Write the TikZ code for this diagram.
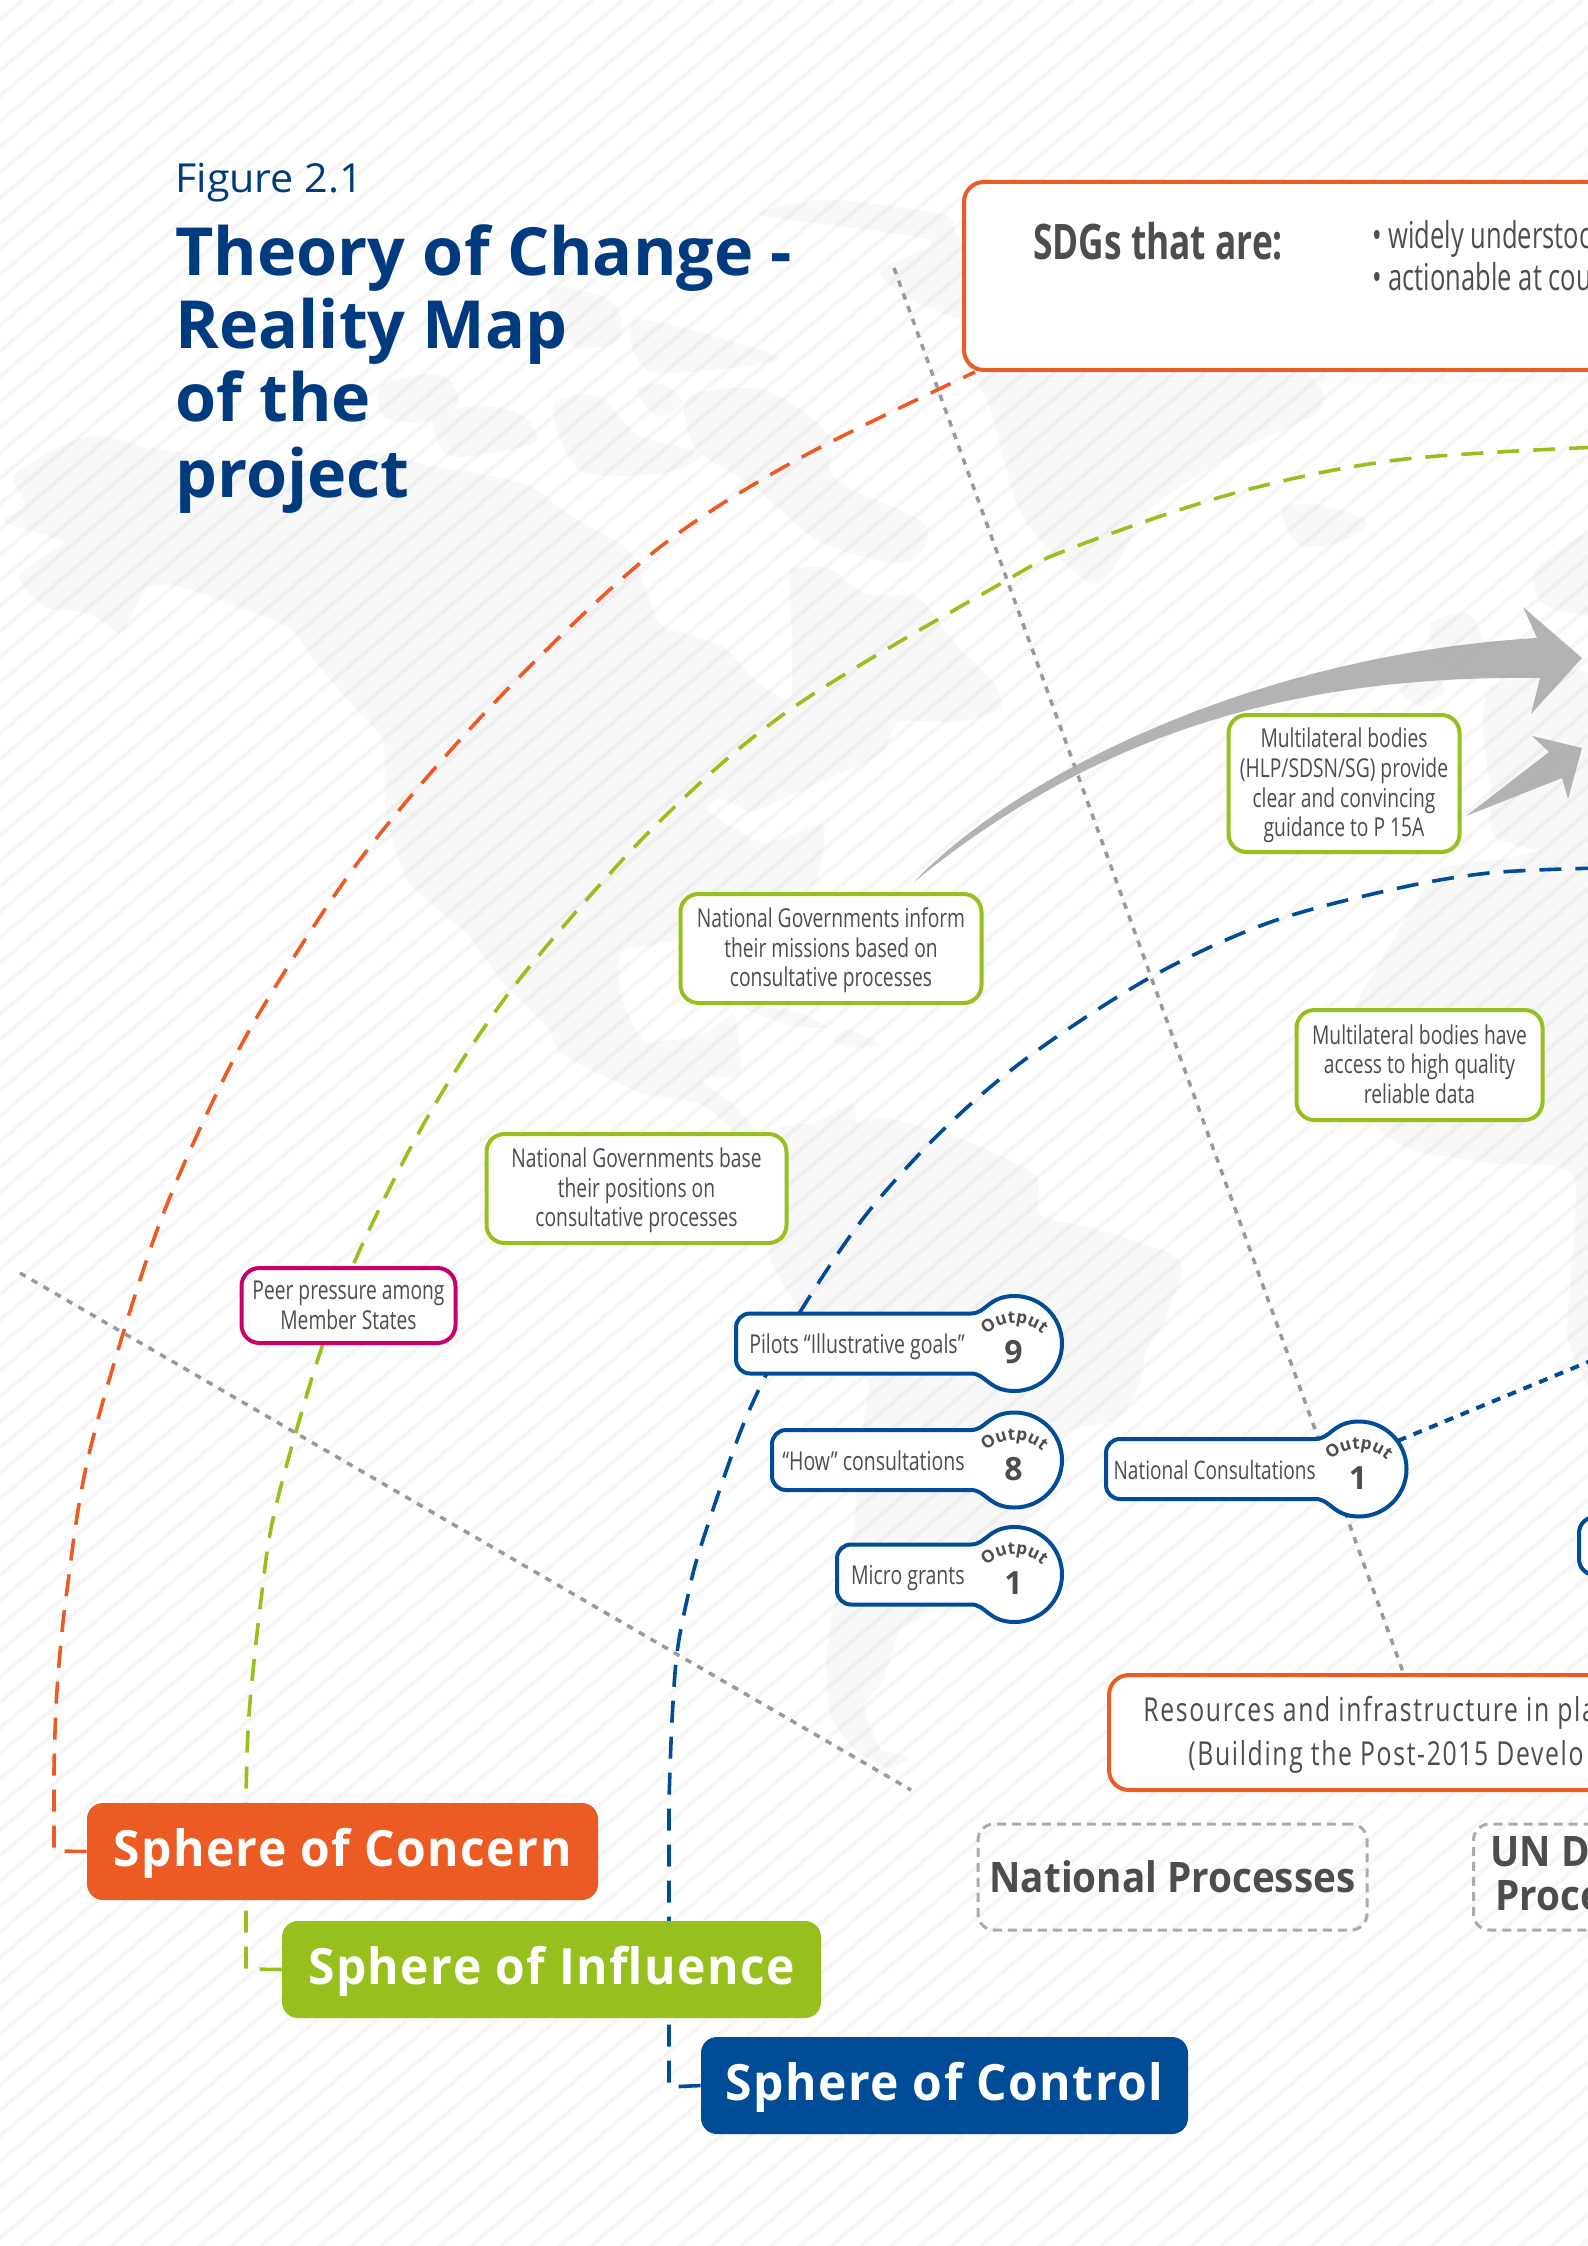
\documentclass[tikz,border=0pt]{standalone}
\usepackage{fontspec}
\usetikzlibrary{decorations.text}
\setmainfont{Open Sans}
\newfontfamily\cond[FakeStretch=0.74]{Open Sans}
\newfontfamily\condk[FakeStretch=0.75]{Open Sans}
\newfontfamily\condn[FakeStretch=0.69]{Open Sans}
\newfontfamily\resf[FakeStretch=0.75,LetterSpace=5]{Open Sans}
\newfontfamily\condb[FakeStretch=0.72]{Open Sans Bold}
\newfontfamily\titleb{Open Sans Bold}
\newfontfamily\figf[FakeStretch=1.03]{Open Sans}
\newfontfamily\sphf[FakeStretch=0.96,LetterSpace=3]{Open Sans Bold}
\newfontfamily\procf[FakeStretch=0.92]{Open Sans Bold}
\newfontfamily\outf{Open Sans Bold}
\newcommand\fsz[2]{\fontsize{#1pt}{#2pt}\selectfont}
\definecolor{corange}{HTML}{EC5B24}
\definecolor{cgreen}{HTML}{97BF1E}
\definecolor{cblue}{HTML}{004C97}
\definecolor{cmag}{HTML}{C8006E}
\definecolor{ctext}{HTML}{4D4D4F}
\definecolor{cnavy}{HTML}{003A7F}
\definecolor{cmap}{HTML}{F8F8F8}
\pgfdeclarelayer{under}
\pgfsetlayers{under,main}
\tikzset{
  x=0.5pt,y=-0.5pt,
  stripe/.style={line width=2pt,black,opacity=0.035},
  land/.style={fill=cmap,draw=none},
  dashcurve/.style={line width=1.8pt,dash pattern=on 11pt off 7pt},
  dotline/.style={line width=1.75pt,color=black!40,dash pattern=on 3.25pt off 3.5pt},
  labelbox/.style={draw=cgreen,fill=white,line width=2pt,rounded corners=9pt,inner sep=0pt},
  boxtext/.style={inner sep=0pt,align=center,text=ctext,font=\cond\fsz{13}{14.8}},
  framebox/.style={draw=corange,fill=white,line width=2pt,rounded corners=10pt,inner sep=0pt,minimum width=500pt},
  spherebox/.style={text=white,inner sep=0pt,rounded corners=8pt,font=\sphf\fsz{25}{28},text height=31.5pt,text depth=17pt},
  procbox/.style={draw=black!33,line width=1.5pt,dash pattern=on 4.5pt off 3pt,rounded corners=8pt,inner sep=0pt},
  plain/.style={text=ctext,inner sep=0pt},
  bigarrow/.style={fill=black!33,fill opacity=0.9,draw=none},
  keybody/.style={draw=cblue,fill=white,line width=2pt}
}
\newcommand\keyhole[8]{% name, left, neck, cx, cy, label, number, label right
  \pgfmathsetmacro\kt{#5-30}\pgfmathsetmacro\kb{#5+30}
  \pgfmathsetmacro\ktc{#5-47.5}\pgfmathsetmacro\kbc{#5+47.5}
  \pgfmathsetmacro\knc{#3+15}\pgfmathsetmacro\kcc{#4-26}
  \draw[keybody] (#3,\kt) .. controls (\knc,\kt) and (\kcc,\ktc) .. (#4,\ktc)
     arc[start angle=-90,end angle=90,radius=47.5]
     .. controls (\kcc,\kbc) and (\knc,\kb) .. (#3,\kb)
     [rounded corners=7pt] -- (#2,\kb) -- (#2,\kt) -- (#3,\kt);
  \node[minimum size=47.5pt,inner sep=0pt,circle] (#1) at (#4,#5) {};
  \node[plain,anchor=base east,font=\condk\fsz{13}{14}] (#1-label) at (#8,#5+10) {#6};
  \node[plain,anchor=base,font=\outf\fsz{16}{18}] (#1-number) at (#4-1,#5+20) {#7};
  \pgfmathsetmacro\kax{#4-31}\pgfmathsetmacro\kay{#5-6}
  \path[decorate,decoration={text along path,text align=center,text color=ctext,text={|\outf\fsz{8.6}{10}|Output}}]
     (\kax,\kay) arc[start angle=-140,end angle=-40,radius=40];
}
\begin{document}
\begin{tikzpicture}
\useasboundingbox (0,0) rectangle (1588,2246);
\clip (0,0) rectangle (1588,2246);

% ---------- boxes -----------
\node[framebox,minimum height=94pt,anchor=north west] (sdg) at (962,180) {};
\node[framebox,minimum height=57.5pt,anchor=north west] (res) at (1107,1673) {};
\coordinate (sdgfoot) at (975,372);
\coordinate (resfoot) at (1403,1672);
\coordinate (grayA) at (894,268);
\coordinate (grayB) at (20,1273);
\coordinate (grayC) at (911,1790);
\coordinate (dotEnd) at (1600,1357);
\coordinate (greenEnd) at (1600,447);
\coordinate (blueEnd) at (1600,868);

\node[plain,anchor=base west,font=\condb\fsz{24.5}{26}] (sdgtitle) at (1033,260) {SDGs that are:};
\node[plain,anchor=base west,font=\condn\fsz{18.5}{20}] (sdg1) at (1372,249) {• widely understood};
\node[plain,anchor=base west,font=\condn\fsz{18.5}{20}] (sdg2) at (1372,291) {• actionable at coun};
\node[plain,anchor=base west,font=\resf\fsz{16.5}{18}] (res1) at (1143,1721) {Resources and infrastructure in pla};
\node[plain,anchor=base west,font=\resf\fsz{16.5}{18}] (res2) at (1188,1765) {(Building the Post-2015 Develo};

\node[anchor=base west,text=cnavy,inner sep=0pt,font=\figf\fsz{20}{22}] (fig) at (175,193) {Figure 2.1};
\node[anchor=base west,text=cnavy,inner sep=0pt,font=\titleb\fsz{33.2}{36}] (t1) at (175,276) {Theory of Change -};
\node[anchor=base west,text=cnavy,inner sep=0pt,font=\titleb\fsz{33.2}{36}] (t2) at (175,349) {Reality Map};
\node[anchor=base west,text=cnavy,inner sep=0pt,font=\titleb\fsz{33.2}{36}] (t3) at (175,422) {of the};
\node[anchor=base west,text=cnavy,inner sep=0pt,font=\titleb\fsz{33.2}{36}] (t4) at (175,497) {project};

\node[labelbox,minimum width=115.5pt,minimum height=68.5pt] (hlp) at (1344,783.5) {};
\node[boxtext] (hlp-text) at (1344,785.5) {Multilateral bodies\\(HLP/SDSN/SG) provide\\clear and convincing\\guidance to P 15A};
\node[labelbox,minimum width=123pt,minimum height=55pt] (data) at (1419.5,1065) {};
\node[boxtext] (data-text) at (1419.5,1064) {Multilateral bodies have\\access to high quality\\reliable data};
\node[labelbox,minimum width=150.5pt,minimum height=54.5pt] (inform) at (831,948.5) {};
\node[boxtext] (inform-text) at (831,950.5) {National Governments inform\\their missions based on\\consultative processes};
\node[labelbox,minimum width=150pt,minimum height=54.5pt] (base) at (636.5,1188.5) {};
\node[boxtext] (base-text) at (636.5,1190.5) {National Governments base\\their positions on\\consultative processes};
\node[labelbox,draw=cmag,minimum width=107pt,minimum height=37.5pt] (peer) at (348.5,1305.5) {};
\node[boxtext] (peer-text) at (348.5,1305.5) {Peer pressure among\\Member States};

\keyhole{pilots}{736}{971}{1014.5}{1343.5}{Pilots “Illustrative goals”}{9}{965}
\keyhole{how}{772}{971}{1014.5}{1460}{“How” consultations}{8}{965}
\keyhole{micro}{837}{971}{1014.5}{1574.5}{Micro grants}{1}{965}
\keyhole{natc}{1106}{1315.5}{1359}{1469}{\fsz{12.7}{14}National Consultations}{1}{1316}

\draw[keybody,rounded corners=8pt] (1620,1517) -- (1579,1517) -- (1579,1575) -- (1620,1575);

\node[procbox,minimum width=194.5pt,minimum height=53pt,font=\procf\fsz{21}{24},text=ctext] (natproc) at (1172.5,1877) {National Processes};
\node[procbox,minimum width=300pt,minimum height=53pt,anchor=west] (unproc) at (1472,1877) {};
\node[plain,anchor=base west,font=\procf\fsz{21}{24}] (un1) at (1490,1866) {UN D};
\node[plain,anchor=base west,font=\procf\fsz{21}{24}] (un2) at (1495,1910) {Proce};

\node[spherebox,fill=corange,minimum width=255.5pt] (concern) at (342.5,1851.5) {Sphere of Concern};
\node[spherebox,fill=cgreen,minimum width=269.5pt] (influence) at (551.5,1969.5) {Sphere of Influence};
\node[spherebox,fill=cblue,minimum width=243.5pt] (control) at (944.5,2085.5) {Sphere of Control};

% ---------- under layer ----------
\begin{pgfonlayer}{under}
\clip (0,0) rectangle (1588,2246);
\fill[white] (0,0) rectangle (1588,2246);
% map: coordinates in units of a 1.568x enlargement, origin at y=250
\begin{scope}[shift={(0,250)},x=0.3189pt,y=-0.3189pt]
 \fill[land] plot[smooth cycle,tension=0.35] coordinates {(5,425)(40,400)(20,355)(80,315)(150,290)(230,310)(300,320)(400,345)(520,350)(590,320)(680,340)(750,350)(830,370)(900,420)(985,470)(1015,540)(1040,590)(1130,620)(1190,680)(1240,700)(1240,560)(1240,500)(1300,500)(1360,540)(1440,545)(1500,620)(1560,680)(1568,720)(1500,740)(1410,740)(1380,790)(1250,850)(1180,880)(1130,860)(1110,880)(1200,930)(1290,900)(1280,990)(1230,1010)(1070,1080)(975,1100)(975,1170)(1010,1240)(1100,1230)(1150,1200)(1160,1290)(1100,1300)(1150,1340)(1200,1400)(1230,1440)(1170,1400)(1100,1340)(1000,1320)(880,1260)(860,1220)(790,1150)(730,1070)(640,990)(605,880)(600,770)(540,700)(490,640)(450,590)(290,530)(230,530)(190,600)(140,570)(70,560)(30,510)(100,460)(80,450)};
 \fill[land] plot[smooth cycle,tension=0.5] coordinates {(600,210)(690,195)(720,240)(660,270)(600,260)};
 \fill[land] plot[smooth cycle,tension=0.5] coordinates {(680,260)(760,245)(820,260)(840,300)(760,320)(700,320)};
 \fill[land] plot[smooth cycle,tension=0.5] coordinates {(870,240)(940,230)(1000,290)(1100,320)(1040,350)(920,350)(880,300)};
 \fill[land] plot[smooth cycle,tension=0.5] coordinates {(1080,230)(1200,220)(1300,290)(1310,360)(1450,430)(1420,490)(1290,460)(1180,370)(1090,310)};
 \fill[land] plot[smooth cycle,tension=0.5] coordinates {(860,60)(960,80)(970,140)(900,150)};
 \fill[land] plot[smooth cycle,tension=0.5] coordinates {(1000,110)(1100,130)(1220,170)(1100,190)(1020,190)(990,150)};
 \fill[land] plot[smooth cycle,tension=0.5] coordinates {(1000,220)(1040,210)(1070,240)(1030,260)};
\end{scope}
% Greenland, Iceland, Europe, Africa, South America, Caribbean
\fill[land] plot[smooth cycle,tension=0.4] coordinates {(760,215)(830,200)(945,215)(963,240)(1100,300)(1300,370)(1320,410)(1229,455)(1150,510)(1112,570)(1090,583)(1040,540)(1015,500)(990,407)(960,350)(985,330)(910,300)(880,270)(930,240)};
\fill[land] plot[smooth cycle,tension=0.5] coordinates {(1282,510)(1320,505)(1367,522)(1340,542)(1300,545)};
\fill[land] plot[smooth cycle,tension=0.5] coordinates {(1431,625)(1470,615)(1487,660)(1470,680)(1440,670)};
\fill[land] plot[smooth cycle,tension=0.5] coordinates {(1401,690)(1430,675)(1445,690)(1420,705)};
\fill[land] plot[smooth cycle,tension=0.5] coordinates {(1536,570)(1600,530)(1600,610)(1545,605)};
\fill[land] plot[smooth cycle,tension=0.5] coordinates {(1490,690)(1600,680)(1600,840)(1500,840)(1490,790)};
\fill[land] plot[smooth cycle,tension=0.35] coordinates {(1356,1004)(1412,908)(1438,870)(1500,860)(1620,870)(1620,1400)(1568,1340)(1574,1176)(1487,1163)(1412,1150)(1375,1125)(1345,1060)};
\begin{scope}[shift={(700,1050)},x=0.1913pt,y=-0.2424pt]
 \fill[land] plot[smooth cycle,tension=0.35] coordinates {(180,420)(210,300)(230,230)(210,160)(300,150)(400,110)(410,150)(480,140)(640,170)(760,210)(880,260)(890,340)(1040,370)(1230,420)(1260,460)(1200,580)(1165,620)(1150,690)(1090,760)(950,790)(880,880)(840,985)(660,1100)(580,1170)(520,1200)(480,1300)(430,1350)(470,1440)(550,1460)(490,1480)(400,1440)(340,1370)(330,1250)(350,1150)(400,1000)(420,800)(440,680)(340,620)(230,500)};
\end{scope}
\fill[land] plot[smooth cycle,tension=0.5] coordinates {(744,1007)(790,1010)(828,1027)(790,1025)};
\fill[land] plot[smooth cycle,tension=0.5] coordinates {(833,1040)(850,1030)(880,1045)(850,1047)};
% stripes
\foreach \c in {23,53,...,4253} \draw[stripe] (\c,0) -- ++(-2700,2295);
% connectors
\draw[dashcurve,corange] (concern.west) -- (54,1851) -- plot[smooth,tension=0.55] coordinates {(54,1770)(57,1690)(67,1590)(90,1450)(150,1250)(204,1120)(263,1007)(365,853)(497,700)(650,555)(791,463)(sdgfoot)};
\draw[dashcurve,cgreen] (influence.west) -- (246,1969) -- plot[smooth,tension=0.55] coordinates {(246,1800)(249,1715)(261,1600)(275,1510)(316,1365)(354,1263)(412,1145)(469,1050)(535,960)(657,824)(791,709)(1000,584)(1072,548)(1235,493)(1397,460)(greenEnd)};
\draw[dashcurve,cblue] (control.west) -- (669,2087) -- plot[smooth,tension=0.55] coordinates {(669,1800)(672,1720)(677,1653)(687,1600)(700,1549)(738,1438)(765,1377)(800,1312)(865,1216)(945,1128)(1031,1055)(1151,977)(1268,923)(1390,890)(1489,873)(blueEnd)};
\draw[cblue,line width=2pt,dash pattern=on 4.5pt off 4pt] (natc.36) -- (dotEnd);
\draw[dotline] (grayA) -- (resfoot);
\draw[dotline] (grayB) -- (grayC);
% grey arrows
\fill[bigarrow] (914,882) .. controls (1010,780) and (1250,655) .. (1537,638) -- (1523,607) -- (1582,658) -- (1531,714) -- (1540,678) .. controls (1300,675) and (1100,730) .. cycle;
\fill[bigarrow] (1466,816) -- (1549,752) -- (1532,736) -- (1582,748) -- (1568,799) -- (1562,778) -- cycle;
\end{pgfonlayer}
\end{tikzpicture}
\end{document}
